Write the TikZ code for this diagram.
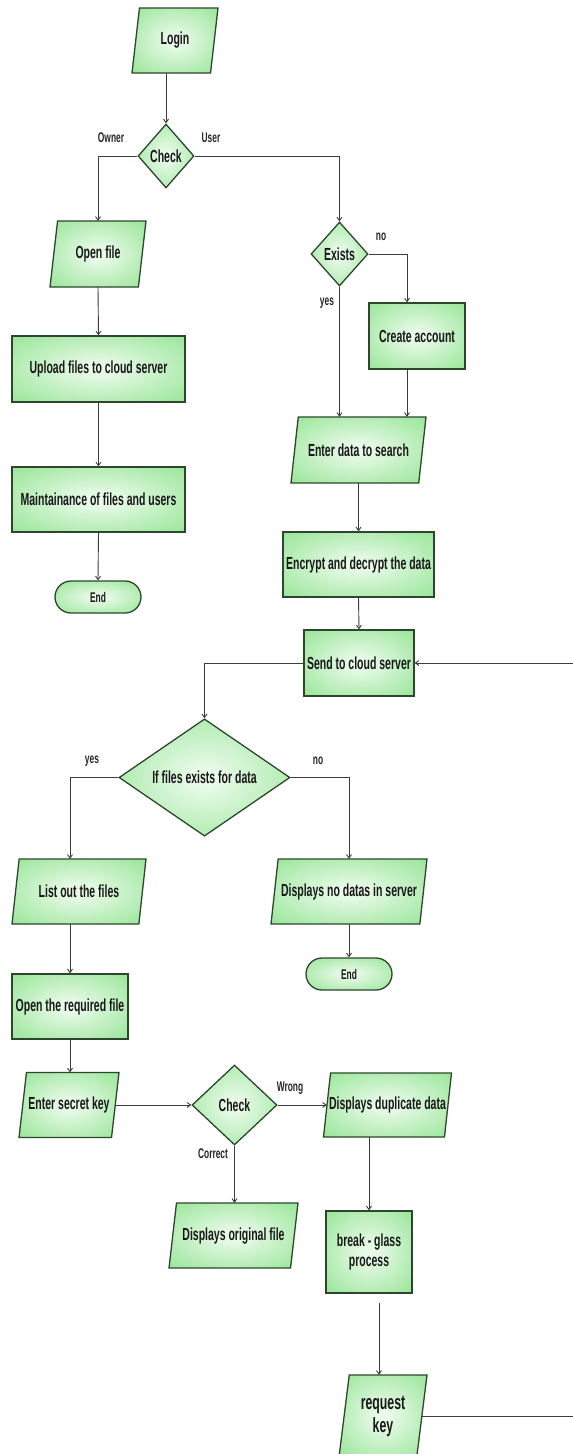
\documentclass[tikz,border=0pt]{standalone}
\usepackage{fontspec}
\setmainfont{Liberation Sans}[FakeStretch=0.6]
\usetikzlibrary{shapes.geometric,shapes.misc,arrows.meta}
\definecolor{gin}{RGB}{232,250,232}
\definecolor{gout}{RGB}{136,225,136}
\definecolor{bord}{RGB}{45,70,45}
\definecolor{conncol}{RGB}{60,60,60}
\pgfdeclareradialshading{greenglow}{\pgfpoint{0bp}{0bp}}{color(0bp)=(gin); color(4bp)=(gin); color(42bp)=(gout); color(100bp)=(gout)}
% [node options]{name}{x}{y}{bbox width}{height}{slant ratio}{text}
\newcommand\pgram[8][]{%
  \path[base] ({#3-#5/2+#7*#6},{#4-#6/2}) -- ({#3+#5/2},{#4-#6/2}) -- ({#3+#5/2-#7*#6},{#4+#6/2}) -- ({#3-#5/2},{#4+#6/2}) -- cycle;
  \node[txt, minimum width={#5-#7*#6}, minimum height=#6, #1] (#2) at (#3,#4) {#8};}
\begin{document}
\begin{tikzpicture}[x=1pt,y=-1pt,
  font=\bfseries\fontsize{17.5}{20}\selectfont,
  base/.style={draw=bord, line width=1.3pt, shade, shading=greenglow, text=black!90, inner sep=0pt, align=center},
  txt/.style={rectangle, inner sep=0pt, align=center, text=black!90},
  proc/.style={base, rectangle},
  dec/.style={base, diamond},
  term/.style={base, rounded rectangle},
  lbl/.style={font=\bfseries\fontsize{14}{16}\selectfont, text=black!85, inner sep=0pt},
  arr/.style={draw=conncol, line width=0.9pt, -{Straight Barb[length=3.5pt,width=5pt]}}]
\fill[white] (0,0) rectangle (573,1454);
\useasboundingbox (0,0) rectangle (573,1454);

\pgram{login}{175}{40.5}{86}{65}{0.115}{Login}
\node[dec, minimum width=56pt, minimum height=64pt] (chk1) at (166,156) {Check};
\pgram{openf}{98}{254}{96}{66}{0.115}{Open file}
\node[dec, minimum width=57pt, minimum height=64pt] (exists) at (339.5,254) {Exists};
\node[proc, minimum width=96pt, minimum height=66pt] (create) at (417,336) {Create account};
\node[proc, minimum width=173pt, minimum height=66pt] (upload) at (98.5,369) {Upload files to cloud server};
\pgram{enterdata}{358.5}{450}{135}{66}{0.11}{Enter data to search}
\node[proc, minimum width=173pt, minimum height=65pt] (maint) at (98.5,499.5) {Maintainance of files and users};
\node[proc, minimum width=151pt, minimum height=65pt] (encrypt) at (358.5,564.5) {Encrypt and decrypt the data};
\node[term, minimum width=86pt, minimum height=32pt, font=\bfseries\fontsize{14}{16}\selectfont] (end1) at (98,597) {End};
\node[proc, minimum width=110pt, minimum height=66pt] (send) at (359,663) {Send to cloud server};
\node[dec, minimum width=171pt, minimum height=97pt] (iff) at (204.5,777.5) {If files exists for data};
\pgram{listout}{79}{891.5}{134}{65}{0.11}{List out the files}
\pgram{nodata}{349}{891.5}{156}{65}{0.11}{Displays no datas in server}
\node[term, minimum width=86pt, minimum height=32pt, font=\bfseries\fontsize{14}{16}\selectfont] (end2) at (349,974) {End};
\node[proc, minimum width=116pt, minimum height=65pt] (openreq) at (70,1006.5) {Open the required file};
\pgram{secret}{69}{1105}{100}{65}{0.115}{Enter secret key}
\node[dec, minimum width=85pt, minimum height=80pt] (chk2) at (234.5,1105) {Check};
\pgram{dupl}{387.5}{1105}{128}{64}{0.11}{Displays duplicate data}
\pgram{orig}{233.5}{1235.5}{129}{65}{0.115}{Displays original file}
\node[proc, minimum width=86pt, minimum height=82pt] (brk) at (369,1252) {break - glass\\process};
\pgram[font=\bfseries\fontsize{20.5}{23}\selectfont]{reqkey}{383}{1416}{88}{82}{0.125}{request\\key}

\node[lbl] (lowner) at (111,138) {Owner};
\node[lbl] (luser) at (211,138) {User};
\node[lbl] (lno1) at (381,237) {no};
\node[lbl] (lyes1) at (327,303) {yes};
\node[lbl] (lyes2) at (92,761) {yes};
\node[lbl] (lno2) at (318,761) {no};
\node[lbl] (lwrong) at (290,1088) {Wrong};
\node[lbl] (lcorrect) at (213,1154) {Correct};

\coordinate (redge) at (578,663);

\draw[arr] (chk1.north |- login.south) -- (chk1.north);
\draw[arr] (chk1.west) -| (openf.north);
\draw[arr] (chk1.east) -| (exists.north);
\draw[arr] (openf.south) -- (upload.north);
\draw[arr] (upload.south) -- (maint.north);
\draw[arr] (maint.south) -- (end1.north);
\draw[arr] (exists.east) -| ([xshift=-10pt]create.north);
\draw[arr] (exists.south) -- (exists.south |- enterdata.north);
\draw[arr] ([xshift=-10pt]create.south) -- ([xshift=-10pt]create.south |- enterdata.north);
\draw[arr] (enterdata.south) -- (encrypt.north);
\draw[arr] (encrypt.south) -- (send.north);
\draw[arr] (send.west) -| (iff.north);
\draw[arr] (iff.west) -| (openreq.north |- listout.north);
\draw[arr] (iff.east) -| (nodata.north);
\draw[arr] (nodata.south) -- (end2.north);
\draw[arr] (openreq.north |- listout.south) -- (openreq.north);
\draw[arr] (openreq.south) -- (openreq.south |- secret.north);
\draw[arr] (secret.east) -- (chk2.west);
\draw[arr] (chk2.east) -- (dupl.west);
\draw[arr] (chk2.south) -- (chk2.south |- orig.north);
\draw[arr] (brk.north |- dupl.south) -- (brk.north);
\draw[arr] ([xshift=10pt,yshift=-9pt]brk.south) -- ([xshift=10pt]brk.south |- reqkey.north);
\draw[arr] (reqkey.east) -- (reqkey.east -| redge) -- (redge) -- (send.east);
\end{tikzpicture}
\end{document}
